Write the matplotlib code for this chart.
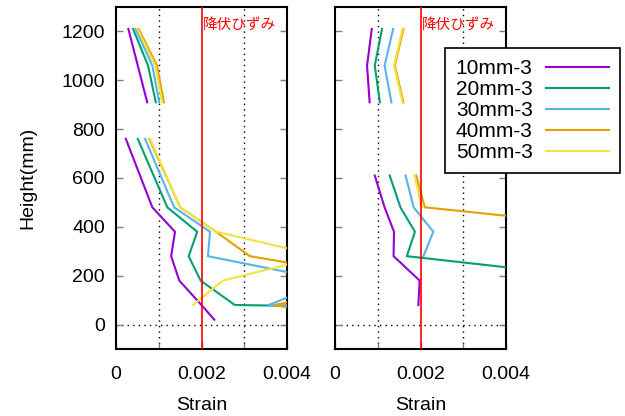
import numpy as np
import matplotlib
matplotlib.use('Agg')
import matplotlib.pyplot as plt
from matplotlib.ticker import MultipleLocator

plt.rcParams['font.family'] = ['Liberation Sans', 'Noto Sans CJK JP', 'DejaVu Sans']

nan = np.nan

#heights of the gauges, upper group / gap / lower group
heights_left = [1210, 1060, 910, nan, 760, 480, 380, 280, 180, 80, 20]
heights_right = [1210, 1060, 910, nan, 610, 480, 380, 280, 180, 80]

labels = ['10mm-3', '20mm-3', '30mm-3', '40mm-3', '50mm-3']
colors = ['#9400d3', '#009e73', '#56b4e9', '#e69f00', '#f0e442']

#strains, left panel
left_10 = [0.00029, 0.00051, 0.00073, nan, 0.00023, 0.00085, 0.00138, 0.00129, 0.00148, 0.0020, 0.0023]
left_20 = [0.00040, 0.00075, 0.00093, nan, 0.00051, 0.00120, 0.00190, 0.00170, 0.00198, 0.00278, 0.027]
left_30 = [0.00046, 0.00085, 0.00101, nan, 0.00068, 0.00136, 0.00220, 0.00215, 0.0050, 0.00357, 0.030]
left_40 = [0.00053, 0.00096, 0.00112, nan, 0.00078, 0.00150, 0.00234, 0.00313, 0.0065, 0.0037, 0.0057]
left_50 = [0.00050, 0.00092, 0.00108, nan, 0.00080, 0.00150, 0.00234, 0.0048, 0.0025, 0.0018, nan]

#right panel
right_10 = [0.00086, 0.00075, 0.00081, nan, 0.00093, 0.00116, 0.00138, 0.00137, 0.00198, 0.00195]
right_20 = [0.00110, 0.00093, 0.00105, nan, 0.00128, 0.00153, 0.00187, 0.00168, 0.0068, nan]
right_30 = [0.00136, 0.00116, 0.00132, nan, 0.00165, 0.00184, 0.00230, 0.00207, nan, nan]
right_40 = [0.00160, 0.00140, 0.00160, nan, 0.00190, 0.00210, 0.0076, nan, nan, nan]
right_50 = [0.00158, 0.00138, 0.00158, nan, 0.00186, 0.00203, nan, nan, nan, nan]

yield_strain = 0.002
yield_text = '降伏ひずみ'

fig = plt.figure(figsize=(6.25, 4.16), dpi=100)
axL = fig.add_axes([116/625, 1-349/416, 171/625, 342/416])
axR = fig.add_axes([335/625, 1-349/416, 171/625, 342/416])

def setup(ax, h, series, ylabels):
    for s, c, lab in zip(series, colors, labels):
        ax.plot(s, h, color=c, lw=1.5, label=lab, zorder=3)
    ax.axvline(yield_strain, color='#ff0000', lw=1.2, zorder=4)
    for x in (0.001, 0.003):
        ax.axvline(x, color='black', lw=1, ls=(0, (1, 3)), zorder=1)
    ax.axhline(0, color='black', lw=1, ls=(0, (1, 3)), zorder=1)
    ax.text(yield_strain + 0.00003, 1225, yield_text, color='#ff0000',
            fontsize=10.5, ha='left', va='center', zorder=5)
    ax.set_xlim(0, 0.004)
    ax.set_ylim(-100, 1300)
    ax.set_xticks([0, 0.002, 0.004])
    ax.set_xticklabels(['0', '0.002', '0.004'])
    ax.xaxis.set_minor_locator(MultipleLocator(0.001))
    ax.set_yticks(range(0, 1201, 200))
    if not ylabels:
        ax.set_yticklabels([])
    ax.tick_params(axis='both', which='both', direction='in', length=5,
                   width=1, color='#808080', labelsize=14, pad=8)
    ax.tick_params(axis='x', which='major', pad=12)
    ax.tick_params(axis='y', right=True)
    ax.tick_params(axis='x', which='minor', length=4)
    for sp in ax.spines.values():
        sp.set_linewidth(1.5)
    ax.set_xlabel('Strain', fontsize=14, labelpad=10)

setup(axL, heights_left, [left_10, left_20, left_30, left_40, left_50], True)
setup(axR, heights_right, [right_10, right_20, right_30, right_40, right_50], False)
axL.set_ylabel('Height(mm)', fontsize=14, labelpad=18)

handles, labs = axR.get_legend_handles_labels()
leg = fig.legend(handles, labs, loc='upper left', bbox_to_anchor=(445/625, 1-48/416),
                 markerfirst=False, fontsize=15, handlelength=3.0, labelspacing=0.1,
                 fancybox=False, framealpha=1, edgecolor='black', borderpad=0.52,
                 handletextpad=0.65, borderaxespad=0)
leg.get_frame().set_linewidth(1.2)
leg.set_zorder(10)

fig.savefig('out.png', dpi=100)
